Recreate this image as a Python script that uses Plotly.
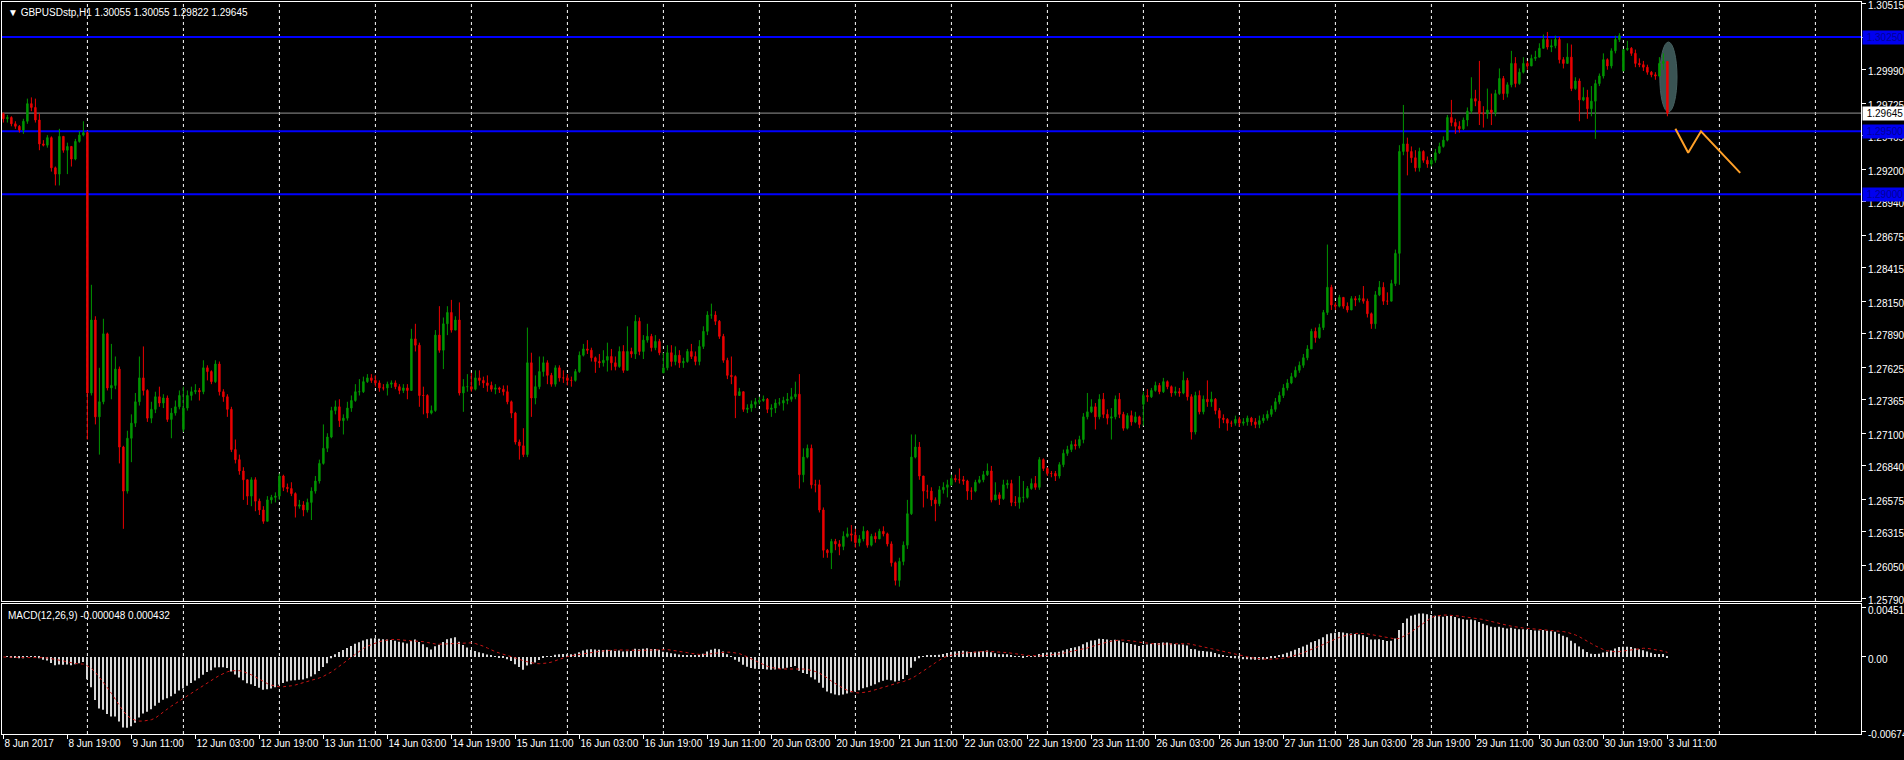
import numpy as np
import pandas as pd
import plotly.graph_objects as go

symbol_title = "\u25BC GBPUSDstp,H1 1.30055 1.30055 1.29822 1.29645"
macd_title = "MACD(12,26,9) -0.000048 0.000432"

closes = [
1.2960,1.2961,1.2956,1.2954,1.2951,1.2958,1.2972,1.2969,1.2959,1.2940,
1.2939,1.2945,1.2921,1.2916,1.2946,1.2935,1.2938,1.2928,1.2942,1.2947,
1.2949,1.2742,1.2800,1.2723,1.2735,1.2789,1.2746,1.2748,1.2761,1.2699,
1.2664,1.2706,1.2718,1.2735,1.2754,1.2744,1.2722,1.2729,1.2739,1.2734,
1.2738,1.2721,1.2726,1.2731,1.2740,1.2730,1.2740,1.2743,1.2744,1.2743,
1.2762,1.2759,1.2751,1.2765,1.2743,1.2739,1.2729,1.2697,1.2689,1.2680,
1.2673,1.2660,1.2673,1.2656,1.2649,1.2640,1.2657,1.2659,1.2660,1.2676,
1.2667,1.2666,1.2662,1.2652,1.2653,1.2649,1.2655,1.2664,1.2672,1.2686,
1.2698,1.2707,1.2728,1.2731,1.2720,1.2722,1.2730,1.2736,1.2743,1.2743,
1.2751,1.2754,1.2752,1.2750,1.2746,1.2746,1.2749,1.2750,1.2747,1.2744,
1.2746,1.2744,1.2785,1.2780,1.2740,1.2740,1.2726,1.2728,1.2788,1.2776,
1.2797,1.2806,1.2792,1.2800,1.2742,1.2747,1.2747,1.2745,1.2754,1.2752,
1.2750,1.2748,1.2745,1.2746,1.2745,1.2743,1.2735,1.2726,1.2703,1.2700,
1.2693,1.2766,1.2738,1.2747,1.2759,1.2766,1.2756,1.2749,1.2762,1.2754,
1.2754,1.2752,1.2752,1.2759,1.2772,1.2777,1.2776,1.2770,1.2767,1.2766,
1.2768,1.2771,1.2766,1.2763,1.2775,1.2760,1.2775,1.2773,1.2799,1.2775,
1.2784,1.2787,1.2778,1.2783,1.2774,1.2762,1.2774,1.2767,1.2772,1.2766,
1.2767,1.2775,1.2771,1.2767,1.2779,1.2791,1.2804,1.2804,1.2799,1.2787,
1.2768,1.2756,1.2755,1.2740,1.2743,1.2729,1.2730,1.2733,1.2735,1.2736,
1.2737,1.2729,1.2730,1.2734,1.2734,1.2736,1.2737,1.2739,1.2741,1.2677,
1.2691,1.2698,1.2669,1.2669,1.2649,1.2617,1.2615,1.2624,1.2622,1.2620,
1.2628,1.2630,1.2629,1.2623,1.2626,1.2632,1.2621,1.2628,1.2626,1.2632,
1.2630,1.2622,1.2607,1.2593,1.2608,1.2621,1.2646,1.2691,1.2699,1.2676,
1.2664,1.2664,1.2657,1.2654,1.2665,1.2667,1.2669,1.2674,1.2673,1.2673,
1.2672,1.2664,1.2664,1.2671,1.2673,1.2677,1.2680,1.2657,1.2661,1.2658,
1.2669,1.2670,1.2655,1.2655,1.2659,1.2659,1.2666,1.2670,1.2667,1.2689,
1.2682,1.2678,1.2678,1.2676,1.2685,1.2694,1.2697,1.2701,1.2700,1.2705,
1.2723,1.2727,1.2731,1.2723,1.2737,1.2725,1.2722,1.2723,1.2737,1.2725,
1.2714,1.2724,1.2719,1.2723,1.2717,1.2740,1.2739,1.2744,1.2748,1.2743,
1.2751,1.2747,1.2742,1.2743,1.2742,1.2752,1.2739,1.2711,1.2740,1.2727,
1.2737,1.2735,1.2737,1.2728,1.2722,1.2721,1.2718,1.2718,1.2721,1.2718,
1.2719,1.2722,1.2719,1.2717,1.2720,1.2722,1.2725,1.2729,1.2735,1.2740,
1.2746,1.2750,1.2755,1.2760,1.2764,1.2770,1.2777,1.2791,1.2786,1.2794,
1.2806,1.2826,1.2812,1.2811,1.2818,1.2811,1.2808,1.2817,1.2816,1.2817,
1.2815,1.2805,1.2797,1.2820,1.2826,1.2815,1.2815,1.2829,1.2853,1.2934,
1.2940,1.2934,1.2929,1.2921,1.2934,1.2927,1.2924,1.2927,1.2933,1.2938,
1.2943,1.2961,1.2957,1.2954,1.2952,1.2959,1.2966,1.2976,1.2974,1.2964,
1.2964,1.2967,1.2965,1.2980,1.2992,1.2980,1.2987,1.3004,1.2988,1.2997,
1.3004,1.3002,1.3008,1.3009,1.3016,1.3023,1.3017,1.3018,1.3023,1.3007,
1.3004,1.3009,1.2984,1.2990,1.2975,1.2977,1.2968,1.2974,1.2988,1.2994,
1.3007,1.3002,1.3014,1.3023,1.3026,1.3015,1.3016,1.3012,1.3004,1.3003,
1.3001,1.2997,1.2995,1.2994,1.3004,1.30055,1.29645]

highs = [
1.2965,1.2963,1.2962,1.2958,1.2955,1.2960,1.2976,1.2977,1.2976,1.2964,
1.2943,1.2947,1.2946,1.2922,1.2952,1.2946,1.2941,1.2938,1.2944,1.2950,
1.2958,1.2950,1.2828,1.2803,1.2762,1.2801,1.2790,1.2781,1.2771,1.2763,
1.2700,1.2712,1.2725,1.2742,1.2771,1.2779,1.2745,1.2735,1.2743,1.2747,
1.2741,1.2740,1.2730,1.2736,1.2744,1.2747,1.2744,1.2747,1.2749,1.2746,
1.2768,1.2764,1.2760,1.2768,1.2767,1.2745,1.2741,1.2731,1.2705,1.2693,
1.2683,1.2673,1.2675,1.2675,1.2658,1.2652,1.2660,1.2661,1.2663,1.2678,
1.2677,1.2670,1.2671,1.2663,1.2657,1.2656,1.2658,1.2667,1.2676,1.2689,
1.2717,1.2710,1.2731,1.2736,1.2737,1.2725,1.2735,1.2740,1.2749,1.2753,
1.2755,1.2757,1.2757,1.2756,1.2752,1.2749,1.2751,1.2752,1.2752,1.2749,
1.2749,1.2749,1.2793,1.2797,1.2782,1.2747,1.2741,1.2732,1.2792,1.2811,
1.2802,1.2811,1.2816,1.2803,1.2814,1.2753,1.2757,1.2758,1.2760,1.2760,
1.2755,1.2756,1.2751,1.2749,1.2747,1.2748,1.2748,1.2736,1.2727,1.2705,
1.2714,1.2794,1.2774,1.2756,1.2771,1.2771,1.2768,1.2758,1.2764,1.2764,
1.2760,1.2757,1.2755,1.2761,1.2775,1.2781,1.2784,1.2778,1.2771,1.2773,
1.2776,1.2782,1.2777,1.2771,1.2779,1.2780,1.2795,1.2778,1.2804,1.2802,
1.2788,1.2797,1.2789,1.2788,1.2785,1.2774,1.2780,1.2780,1.2779,1.2776,
1.2770,1.2777,1.2781,1.2775,1.2784,1.2795,1.2807,1.2813,1.2807,1.2800,
1.2789,1.2770,1.2771,1.2756,1.2746,1.2743,1.2733,1.2736,1.2738,1.2739,
1.2740,1.2738,1.2733,1.2737,1.2738,1.2739,1.2742,1.2746,1.2751,1.2757,
1.2698,1.2701,1.2701,1.2673,1.2673,1.2651,1.2618,1.2626,1.2626,1.2625,
1.2632,1.2635,1.2637,1.2634,1.2629,1.2636,1.2633,1.2630,1.2631,1.2634,
1.2636,1.2631,1.2624,1.2608,1.2611,1.2624,1.2657,1.2709,1.2709,1.2703,
1.2676,1.2669,1.2667,1.2659,1.2668,1.2671,1.2673,1.2677,1.2677,1.2682,
1.2676,1.2673,1.2667,1.2673,1.2676,1.2680,1.2686,1.2684,1.2671,1.2663,
1.2673,1.2673,1.2673,1.2660,1.2676,1.2672,1.2668,1.2674,1.2676,1.2691,
1.2690,1.2683,1.2680,1.2680,1.2687,1.2697,1.2700,1.2704,1.2705,1.2708,
1.2726,1.2742,1.2737,1.2734,1.2741,1.2742,1.2729,1.2730,1.2740,1.2742,
1.2727,1.2726,1.2728,1.2727,1.2724,1.2743,1.2745,1.2746,1.2751,1.2750,
1.2754,1.2752,1.2748,1.2747,1.2746,1.2759,1.2754,1.2741,1.2743,1.2744,
1.2740,1.2752,1.2743,1.2738,1.2730,1.2725,1.2722,1.2720,1.2724,1.2723,
1.2722,1.2724,1.2723,1.2722,1.2724,1.2725,1.2728,1.2732,1.2738,1.2743,
1.2749,1.2753,1.2758,1.2763,1.2767,1.2773,1.2780,1.2793,1.2794,1.2797,
1.2808,1.2860,1.2828,1.2814,1.2820,1.2817,1.2814,1.2819,1.2819,1.2820,
1.2827,1.2817,1.2806,1.2823,1.2831,1.2830,1.2822,1.2832,1.2856,1.2939,
1.2971,1.2945,1.2938,1.2935,1.2937,1.2935,1.2930,1.2929,1.2936,1.2941,
1.2946,1.2963,1.2975,1.2960,1.2958,1.2961,1.2969,1.2993,1.2983,1.3006,
1.2970,1.2984,1.2980,1.2983,1.3000,1.2994,1.2989,1.3014,1.3009,1.3000,
1.3009,1.3006,1.3011,1.3014,1.3020,1.3027,1.3029,1.3023,1.3026,1.3025,
1.3009,1.3020,1.3019,1.2993,1.2992,1.2985,1.2983,1.2986,1.2991,1.2996,
1.3012,1.3008,1.3016,1.3026,1.3028,1.3015,1.3022,1.3017,1.3015,1.3008,
1.3006,1.3003,1.2998,1.2997,1.3009,1.3012,1.30055]

lows = [
1.2957,1.2957,1.2954,1.2952,1.2949,1.2948,1.2956,1.2966,1.2957,1.2935,
1.2938,1.2937,1.2918,1.2907,1.2907,1.2933,1.2916,1.2922,1.2927,1.2941,
1.2946,1.2705,1.2740,1.2717,1.2693,1.2733,1.2744,1.2737,1.2745,1.2686,
1.2634,1.2662,1.2687,1.2715,1.2732,1.2740,1.2719,1.2718,1.2726,1.2731,
1.2730,1.2719,1.2706,1.2724,1.2729,1.2711,1.2728,1.2736,1.2741,1.2736,
1.2741,1.2752,1.2749,1.2750,1.2740,1.2735,1.2723,1.2695,1.2686,1.2677,
1.2657,1.2653,1.2652,1.2648,1.2645,1.2638,1.2640,1.2654,1.2655,1.2657,
1.2664,1.2663,1.2660,1.2643,1.2650,1.2644,1.2647,1.2641,1.2662,1.2670,
1.2685,1.2695,1.2706,1.2725,1.2715,1.2709,1.2720,1.2727,1.2735,1.2740,
1.2742,1.2750,1.2750,1.2747,1.2743,1.2744,1.2740,1.2746,1.2745,1.2741,
1.2742,1.2737,1.2745,1.2775,1.2731,1.2725,1.2722,1.2725,1.2727,1.2774,
1.2761,1.2788,1.2790,1.2794,1.2740,1.2727,1.2743,1.2743,1.2744,1.2748,
1.2746,1.2743,1.2743,1.2741,1.2742,1.2740,1.2733,1.2722,1.2701,1.2689,
1.2691,1.2691,1.2723,1.2733,1.2745,1.2755,1.2749,1.2747,1.2747,1.2751,
1.2750,1.2748,1.2747,1.2751,1.2758,1.2771,1.2773,1.2767,1.2758,1.2762,
1.2763,1.2759,1.2760,1.2760,1.2762,1.2758,1.2760,1.2770,1.2769,1.2772,
1.2769,1.2782,1.2775,1.2776,1.2772,1.2758,1.2760,1.2763,1.2764,1.2762,
1.2762,1.2766,1.2769,1.2764,1.2764,1.2777,1.2788,1.2801,1.2796,1.2785,
1.2766,1.2753,1.2749,1.2722,1.2740,1.2727,1.2726,1.2727,1.2730,1.2733,
1.2735,1.2726,1.2723,1.2726,1.2732,1.2728,1.2733,1.2735,1.2737,1.2666,
1.2671,1.2690,1.2666,1.2663,1.2647,1.2611,1.2611,1.2602,1.2617,1.2613,
1.2617,1.2627,1.2624,1.2619,1.2620,1.2624,1.2619,1.2620,1.2623,1.2626,
1.2628,1.2620,1.2604,1.2589,1.2588,1.2605,1.2618,1.2645,1.2690,1.2673,
1.2651,1.2658,1.2652,1.2640,1.2652,1.2662,1.2659,1.2668,1.2671,1.2670,
1.2669,1.2657,1.2657,1.2663,1.2670,1.2671,1.2676,1.2655,1.2657,1.2653,
1.2657,1.2666,1.2652,1.2652,1.2650,1.2655,1.2658,1.2665,1.2665,1.2665,
1.2680,1.2676,1.2675,1.2672,1.2674,1.2683,1.2692,1.2695,1.2697,1.2698,
1.2702,1.2721,1.2726,1.2713,1.2721,1.2722,1.2717,1.2705,1.2721,1.2722,
1.2712,1.2713,1.2716,1.2718,1.2714,1.2716,1.2735,1.2738,1.2743,1.2741,
1.2742,1.2745,1.2739,1.2740,1.2739,1.2741,1.2736,1.2705,1.2709,1.2725,
1.2725,1.2731,1.2731,1.2725,1.2714,1.2718,1.2712,1.2715,1.2716,1.2715,
1.2716,1.2716,1.2716,1.2714,1.2714,1.2718,1.2720,1.2723,1.2727,1.2733,
1.2738,1.2744,1.2749,1.2754,1.2758,1.2762,1.2768,1.2784,1.2782,1.2785,
1.2792,1.2804,1.2808,1.2808,1.2810,1.2809,1.2806,1.2810,1.2811,1.2814,
1.2813,1.2802,1.2793,1.2793,1.2819,1.2812,1.2812,1.2817,1.2827,1.2828,
1.2931,1.2915,1.2925,1.2918,1.2918,1.2925,1.2921,1.2922,1.2925,1.2932,
1.2937,1.2942,1.2954,1.2948,1.2949,1.2951,1.2954,1.2964,1.2970,1.2955,
1.2953,1.2960,1.2955,1.2962,1.2979,1.2975,1.2977,1.2985,1.2985,1.2987,
1.2996,1.2999,1.3003,1.3006,1.3009,1.3016,1.3015,1.3013,1.3016,1.3004,
1.3000,1.3004,1.2982,1.2983,1.2958,1.2974,1.2960,1.2962,1.2944,1.2986,
1.2992,1.2999,1.3000,1.3012,1.3021,1.2998,1.3014,1.3010,1.3001,1.3001,
1.2998,1.2995,1.2993,1.2991,1.2993,1.2999,1.2962]

# bars whose open is not the previous close (first bar, Monday gaps)
gap_bars = [0, 45, 165, 285, 405]
gap_opens = [1.2964, 1.2713, 1.2758, 1.2733, 1.2998]

time_labels = ["8 Jun 2017", "8 Jun 19:00", "9 Jun 11:00", "12 Jun 03:00", "12 Jun 19:00",
               "13 Jun 11:00", "14 Jun 03:00", "14 Jun 19:00", "15 Jun 11:00", "16 Jun 03:00",
               "16 Jun 19:00", "19 Jun 11:00", "20 Jun 03:00", "20 Jun 19:00", "21 Jun 11:00",
               "22 Jun 03:00", "22 Jun 19:00", "23 Jun 11:00", "26 Jun 03:00", "26 Jun 19:00",
               "27 Jun 11:00", "28 Jun 03:00", "28 Jun 19:00", "29 Jun 11:00", "30 Jun 03:00",
               "30 Jun 19:00", "3 Jul 11:00"]
label_step = 16
grid_first = 21
grid_step = 24

level_lines = [1.30250, 1.29500, 1.29000]
bid_price = 1.29645

price_ticks = [1.30515, 1.30250, 1.29990, 1.29725, 1.29465, 1.29200, 1.28940, 1.28675,
               1.28415, 1.28150, 1.27890, 1.27625, 1.27365, 1.27100, 1.26840, 1.26575,
               1.26315, 1.26050, 1.25790]
macd_ticks = [0.00451, 0.0, -0.006747]
macd_tick_text = ["0.00451", "0.00", "-0.006747"]

forecast_bars = [418.0, 421.2, 424.4, 434.2]
forecast_prices = [1.2952, 1.2933, 1.2950, 1.2917]

ellipse_bars = [414.1, 418.4]
ellipse_prices = [1.29654, 1.30210]

price_range = [1.257662, 1.305283]
macd_range = [-0.00702, 0.00483]
bar_range = [-0.35, 464.4]

# ---------------------------------------------------------------
n = len(closes)
x = np.arange(n)
opens = [closes[0]] + closes[:-1]
for b, o in zip(gap_bars, gap_opens):
    opens[b] = o
hi = [max(h, o, c) for h, o, c in zip(highs, opens, closes)]
lo = [min(l, o, c) for l, o, c in zip(lows, opens, closes)]

cs = pd.Series(closes)
ema12 = cs.ewm(span=12, adjust=False).mean()
ema26 = cs.ewm(span=26, adjust=False).mean()
macd_main = ema12 - ema26
macd_signal = macd_main.rolling(9, min_periods=1).mean()

GREEN = "rgb(0,150,0)"
RED = "rgb(235,0,0)"
FONT = "Liberation Sans, Arial, sans-serif"

fig = go.Figure()
fig.add_trace(go.Candlestick(
    x=x, open=opens, high=hi, low=lo, close=closes, xaxis="x", yaxis="y",
    increasing=dict(line=dict(color=GREEN, width=1), fillcolor=GREEN),
    decreasing=dict(line=dict(color=RED, width=1), fillcolor=RED),
    whiskerwidth=0, showlegend=False, hoverinfo="skip"))
fig.add_trace(go.Scatter(
    x=forecast_bars, y=forecast_prices, mode="lines", xaxis="x", yaxis="y",
    line=dict(color="rgb(255,160,40)", width=2), showlegend=False, hoverinfo="skip"))
fig.add_trace(go.Bar(
    x=x, y=macd_main, xaxis="x2", yaxis="y2", width=0.3,
    marker=dict(color="rgb(215,215,215)", line=dict(width=0)),
    showlegend=False, hoverinfo="skip"))
fig.add_trace(go.Scatter(
    x=x, y=macd_signal, mode="lines", xaxis="x2", yaxis="y2",
    line=dict(color="rgb(200,20,20)", width=1, dash="dot"),
    showlegend=False, hoverinfo="skip"))

shapes = []
g = grid_first
while g <= bar_range[1]:
    for yr in ("y domain", "y2 domain"):
        shapes.append(dict(type="line", xref="x", yref=yr, x0=g, x1=g, y0=0, y1=1,
                           line=dict(color="white", width=1, dash="3px,3px"), layer="below"))
    g += grid_step
for lv in level_lines:
    shapes.append(dict(type="line", xref="x domain", yref="y", x0=0, x1=1, y0=lv, y1=lv,
                       line=dict(color="rgb(0,0,255)", width=2), layer="below"))
shapes.append(dict(type="line", xref="x domain", yref="y", x0=0, x1=1, y0=bid_price, y1=bid_price,
                   line=dict(color="rgb(150,150,150)", width=1), layer="below"))
shapes.append(dict(type="circle", xref="x", yref="y",
                   x0=ellipse_bars[0], x1=ellipse_bars[1], y0=ellipse_prices[0], y1=ellipse_prices[1],
                   fillcolor="rgb(58,84,84)", line=dict(color="rgb(70,96,96)", width=1), layer="below"))

annotations = [
    dict(text=symbol_title, xref="paper", yref="paper", x=0, y=1, xanchor="left", yanchor="top",
         xshift=4, yshift=-3, showarrow=False, font=dict(family=FONT, size=10, color="white")),
    dict(text=macd_title, xref="paper", yref="y2 domain", x=0, y=1, xanchor="left", yanchor="top",
         xshift=4, yshift=-4, showarrow=False, font=dict(family=FONT, size=10, color="white")),
]
for lv in level_lines:
    annotations.append(dict(text=f"{lv:.5f}", xref="paper", yref="y", x=1, y=lv, xanchor="left",
                            yanchor="middle", xshift=1, showarrow=False, bgcolor="rgb(0,0,240)",
                            width=42, height=11, borderpad=1, align="center",
                            font=dict(family=FONT, size=10, color="rgb(0,0,150)")))
annotations.append(dict(text=f"{bid_price:.5f}", xref="paper", yref="y", x=1, y=bid_price,
                        xanchor="left", yanchor="middle", xshift=1, showarrow=False,
                        bgcolor="white", width=42, height=11, borderpad=1, align="center",
                        font=dict(family=FONT, size=10, color="black")))

axis_common = dict(showgrid=False, zeroline=False, showline=True, linecolor="white",
                   linewidth=1, mirror=True, tickfont=dict(family=FONT, size=10, color="white"),
                   tickcolor="white", automargin=False)
fig.update_layout(
    width=1904, height=760,
    margin=dict(l=2, r=43, t=2, b=26),
    paper_bgcolor="black", plot_bgcolor="rgba(0,0,0,0)",
    boxgap=0.5, bargap=0.7, showlegend=False,
    xaxis=dict(domain=[0, 1], anchor="y", range=bar_range, showticklabels=False, ticks="",
               rangeslider=dict(visible=False), **axis_common),
    yaxis=dict(domain=[0.1817, 1], anchor="x", side="right", range=price_range,
               tickvals=price_ticks, ticktext=[f"{v:.5f}" for v in price_ticks],
               ticks="outside", ticklen=4, ticklabeloverflow="allow", ticklabelshift=2,
               **axis_common),
    xaxis2=dict(domain=[0, 1], anchor="y2", range=bar_range, matches="x",
                tickvals=[i * label_step for i in range(len(time_labels))], ticktext=time_labels,
                ticks="outside", ticklen=4, ticklabelposition="outside right", tickangle=0,
                ticklabeloverflow="allow", rangeslider=dict(visible=False), **axis_common),
    yaxis2=dict(domain=[0, 0.1776], anchor="x2", side="right", range=macd_range,
                tickvals=macd_ticks, ticktext=macd_tick_text, ticks="outside", ticklen=4,
                ticklabeloverflow="allow", ticklabelshift=3, **axis_common),
    shapes=shapes, annotations=annotations,
)

fig.write_html("out.html", config={"displayModeBar": False},
               post_script="document.body.style.margin='0';document.body.style.overflow='hidden';")
